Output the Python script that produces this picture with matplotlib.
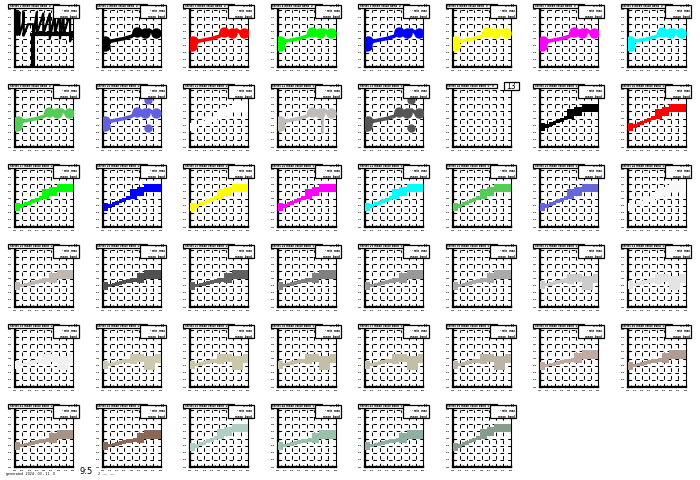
import numpy as np
import matplotlib.pyplot as plt
from matplotlib.patches import Rectangle

# panel colours, row by row (46 panels, panel 14 has no data)
colors = ['black', 'black', 'red', '#00ff00', '#0000ff', '#ffff00', '#ff00ff', '#00ffff',
          '#55cc55', '#6060e0', 'white', '#c0bcb8', '#555555', None, 'black', 'red',
          '#00ff00', '#0000ff', '#ffff00', '#ff00ff', '#00ffff', '#55cc55', '#6666dd', '#f8f8f8',
          '#c0b8b0', '#505050', '#606060', '#808080', '#999999', '#aaaaaa', '#cccccc', '#e4e4e4',
          '#f0f0f0', '#cdc8b0', '#ccc6aa', '#c4bea6', '#c2bea8', '#bcb4a4', '#c0aaa2', '#b09c92',
          '#a89484', '#8a6858', '#b0cfc4', '#98c0aa', '#8fb0a0', '#889c8c']

# how each panel is drawn: 'messy', 'line', 'band', 'gray', 'dip', 'empty'
kinds = ['messy', 'line', 'line', 'line', 'line', 'line', 'line', 'line',
         'line', 'line', 'band', 'line', 'line', 'empty', 'band', 'band',
         'band', 'band', 'band', 'band', 'band', 'band', 'band', 'band',
         'gray', 'gray', 'gray', 'gray', 'gray', 'gray', 'dip', 'dip',
         'dip', 'dip', 'dip', 'dip', 'dip', 'dip', 'gray', 'gray',
         'gray', 'gray', 'band', 'gray', 'gray', 'band']

# line panels
line_x = [0.3, 0.35, 1.0, 2.0, 3.0, 4.0, 4.7, 5.3, 5.8, 6.4, 7.0, 7.4, 8.0]
line_y = [2.9, 3.6, 3.6, 3.8, 4.0, 4.3, 4.8, 4.6, 4.8, 5.2, 4.8, 4.8, 4.8]
marker_x = [0.3, 0.35, 4.7, 5.8, 7.4]
marker_y = [2.9, 3.6, 4.9, 4.8, 4.8]
outlier_x = [6.3, 6.3]
outlier_y = [6.6, 2.6]

# band panels (step bands)
band_x = [0, 0.5, 1, 1.5, 2, 2.5, 3, 3.5, 4, 4.5, 5, 5.5, 6, 6.5, 7, 7.5, 8]
band_lo = [2.2, 2.2, 2.7, 2.95, 3.15, 3.35, 3.55, 3.75, 4.0, 4.0, 4.35, 4.35, 4.85, 4.85, 4.85, 4.85, 4.85]
band_hi = [3.4, 3.4, 3.2, 3.5, 3.7, 3.9, 4.1, 4.4, 5.3, 5.3, 5.55, 5.55, 6.0, 6.0, 6.0, 6.0, 6.0]
gray_lo = [2.35, 2.35, 2.8, 2.9, 3.0, 3.1, 3.2, 3.3, 3.4, 3.5, 3.4, 3.4, 3.9, 3.9, 3.9, 3.9, 3.9]
gray_hi = [3.5, 3.5, 3.2, 3.35, 3.5, 3.65, 3.8, 3.9, 4.0, 4.1, 4.8, 4.8, 5.2, 5.2, 5.2, 5.2, 5.2]
dip_lo = [2.5, 2.5, 2.9, 3.0, 3.1, 3.2, 3.3, 3.4, 3.2, 3.2, 3.5, 3.5, 2.4, 2.4, 2.4, 3.4, 3.4]
dip_hi = [3.6, 3.6, 3.3, 3.45, 3.6, 3.75, 3.9, 4.0, 4.6, 4.6, 4.6, 4.6, 4.4, 4.4, 4.4, 4.6, 4.6]

# first panel: dense black trace
messy_x = [0.3, 0.3, 0.6, 0.6, 1.1, 1.2, 1.2, 1.8, 2.5, 2.5, 2.6, 3.0, 3.0, 3.9, 3.9,
           4.8, 4.8, 5.5, 5.5, 6.2, 6.2, 6.7, 6.7, 7.6, 7.6, 8.0]
messy_y = [7.7, 4.5, 7.7, 4.5, 6.2, 7.7, 4.4, 6.0, 6.0, 0.2, 4.8, 7.7, 4.6, 7.5, 4.6,
           7.5, 4.0, 7.5, 4.6, 7.5, 4.0, 7.5, 4.6, 7.5, 3.6, 4.6]

ticks = [0, 1, 2, 3, 4, 5, 6, 7, 8]
tiny = 1.6

fig = plt.figure(figsize=(7, 4.8), dpi=100)

for i, (col, kind) in enumerate(zip(colors, kinds)):
    r, c = i // 8, i % 8
    left = 15 + c * 87.5
    top = 10 + r * 80
    ax = fig.add_axes([left / 700, 1 - (top + 57) / 480, 58 / 700, 57 / 480])
    ax.set_xlim(0, 8)
    ax.set_ylim(0, 8)
    ax.set_xticks(ticks)
    ax.set_yticks(ticks)
    ax.set_xticklabels([f'{t:.1f}' for t in ticks], fontsize=tiny, fontweight='bold')
    ax.set_yticklabels([f'{t:.1f}' for t in ticks], fontsize=tiny, fontweight='bold')
    ax.set_xticks([t + 0.5 for t in ticks[:-1]], minor=True)
    ax.tick_params(which='both', direction='in', length=1.5, width=0.9, pad=2)
    ax.grid(True, color='black', linestyle=(0, (3.5, 4)), linewidth=0.75)
    ax.set_axisbelow(True)
    ax.spines['top'].set_visible(False)
    ax.spines['left'].set_linewidth(1.6)
    ax.spines['bottom'].set_linewidth(1.6)
    ax.spines['right'].set_linewidth(0.8)

    if kind == 'messy':
        ax.plot(messy_x, messy_y, color=col, linewidth=1.6)
        ax.hlines(4.6, 2.5, 8, color=col, linewidth=3)
        ax.vlines([0.45, 2.5], [4.5, 0.2], [7.7, 4.8], color=col, linewidth=3)
    elif kind == 'line':
        ax.plot(line_x, line_y, color=col, linewidth=2.6, zorder=3)
        ax.plot(marker_x, marker_y, 'o', color=col, markersize=6.5, zorder=3)
        if i in (9, 12):
            ax.plot(outlier_x, outlier_y, 'o', color=col, markersize=5, zorder=3)
        if i == 11:
            ax.vlines(6.2, 2.0, 5.0, color=col, linewidth=1.8, zorder=3)
    elif kind in ('band', 'gray', 'dip'):
        lo = {'band': band_lo, 'gray': gray_lo, 'dip': dip_lo}[kind]
        hi = {'band': band_hi, 'gray': gray_hi, 'dip': dip_hi}[kind]
        ax.fill_between(band_x, lo, hi, step='mid', color=col, linewidth=0, zorder=3)

    # title box
    ax.add_patch(Rectangle((-0.12, 1.03), 0.88, 0.075, transform=ax.transAxes,
                           facecolor='white', edgecolor='black', linewidth=0.9,
                           clip_on=False, zorder=5))
    ax.text(-0.09, 1.067, f'Series {i + 1} mean value band  0 - 8', transform=ax.transAxes,
            fontsize=1.8, fontweight='bold', va='center', ha='left', zorder=6)

    # legend box
    if kind == 'empty':
        ax.add_patch(Rectangle((0.88, 1.0), 0.26, 0.14, transform=ax.transAxes,
                               facecolor='white', edgecolor='black', linewidth=0.9,
                               clip_on=False, zorder=7))
        ax.text(1.01, 1.07, '13', transform=ax.transAxes, fontsize=5.5,
                ha='center', va='center', zorder=8)
    else:
        ax.add_patch(Rectangle((0.655, 0.86), 0.445, 0.23, transform=ax.transAxes,
                               facecolor='white', edgecolor='black', linewidth=0.9,
                               clip_on=False, zorder=7))
        ax.text(1.07, 0.975, 'n = 12\n- min  max\nmean  band', transform=ax.transAxes,
                fontsize=1.8, fontweight='bold', ha='right', va='center',
                linespacing=1.6, zorder=8)

fig.text(6 / 700, 1 - 474 / 480, 'generated  2024 - 03 - 11   0', fontsize=2.4, va='center')
fig.text(80 / 700, 1 - 472 / 480, '9:5', fontsize=6, va='center')
fig.text(98 / 700, 1 - 474 / 480, '2  ----  ----', fontsize=2.4, va='center')

fig.savefig('out.png', dpi=100)
